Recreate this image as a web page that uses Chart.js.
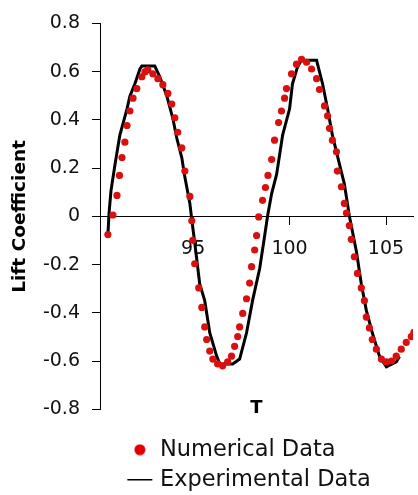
<!DOCTYPE html>
<html>
<head>
<meta charset="utf-8">
<script src="https://cdn.jsdelivr.net/npm/chart.js@4.4.1/dist/chart.umd.min.js"></script>
<style>
  html, body { margin: 0; padding: 0; background: #fff; }
  #wrap { width: 418px; height: 495px; }
</style>
</head>
<body>
<div id="wrap"><canvas id="liftChart"></canvas></div>
<script>
// Numerical data (red dots): time T and lift coefficient
const numT = [90.58, 90.84, 91.05, 91.18, 91.31, 91.46, 91.57, 91.72, 91.88, 92.08,
  92.34, 92.50, 92.65, 92.91, 93.17, 93.43, 93.69, 93.89, 94.05, 94.20,
  94.41, 94.57, 94.83, 94.93, 94.98, 95.08, 95.29, 95.45, 95.60, 95.70,
  95.86, 96.02, 96.27, 96.53, 96.79, 96.99, 97.15, 97.31, 97.41, 97.57,
  97.77, 97.93, 98.03, 98.19, 98.29, 98.40, 98.60, 98.75, 98.88, 99.07,
  99.22, 99.43, 99.58, 99.74, 99.84, 100.10, 100.36, 100.62, 100.88, 101.14,
  101.40, 101.55, 101.81, 101.97, 102.07, 102.22, 102.43, 102.48, 102.69, 102.84,
  102.95, 103.10, 103.20, 103.36, 103.52, 103.72, 103.88, 103.98, 104.14, 104.29,
  104.50, 104.76, 105.02, 105.28, 105.53, 105.79, 106.05, 106.31, 106.45];
const numCl = [-0.075, 0.006, 0.087, 0.17, 0.244, 0.308, 0.377, 0.437, 0.490, 0.530,
  0.579, 0.599, 0.607, 0.591, 0.571, 0.546, 0.510, 0.466, 0.409, 0.349,
  0.284, 0.188, 0.083, -0.018, -0.099, -0.196, -0.296, -0.377, -0.458, -0.510,
  -0.558, -0.591, -0.611, -0.619, -0.603, -0.579, -0.538, -0.498, -0.458, -0.402,
  -0.341, -0.276, -0.208, -0.139, -0.079, -0.002, 0.067, 0.12, 0.17, 0.236,
  0.316, 0.389, 0.437, 0.490, 0.530, 0.591, 0.631, 0.651, 0.639, 0.611,
  0.571, 0.526, 0.458, 0.417, 0.365, 0.316, 0.268, 0.188, 0.123, 0.054,
  0.014, -0.038, -0.095, -0.167, -0.236, -0.296, -0.349, -0.417, -0.462, -0.510,
  -0.550, -0.591, -0.603, -0.599, -0.579, -0.550, -0.522, -0.498, -0.48];

// Experimental data (black line)
const expT = [90.58, 90.64, 90.74, 90.95, 91.20, 91.57, 91.72, 91.98, 92.24, 92.34,
  93.01, 93.27, 93.64, 93.95, 94.15, 94.41, 94.57, 94.83, 94.93, 95.08,
  95.34, 95.60, 95.86, 96.22, 96.38, 97.05, 97.41, 97.77, 98.08, 98.45,
  98.71, 98.86, 99.07, 99.33, 99.64, 100.00, 100.15, 100.41, 100.62, 101.40,
  101.71, 101.97, 102.22, 102.59, 102.84, 103.10, 103.47, 103.72, 103.98, 104.29,
  104.66, 105.02, 105.53, 105.70];
const expCl = [-0.075, 0.014, 0.107, 0.216, 0.337, 0.446, 0.498, 0.550, 0.611, 0.623,
  0.623, 0.579, 0.498, 0.405, 0.325, 0.244, 0.163, 0.054, -0.014, -0.107,
  -0.280, -0.349, -0.482, -0.579, -0.611, -0.611, -0.591, -0.482, -0.349, -0.216,
  -0.079, 0.002, 0.095, 0.175, 0.337, 0.446, 0.550, 0.619, 0.647, 0.647,
  0.550, 0.446, 0.337, 0.216, 0.135, 0.002, -0.147, -0.280, -0.389, -0.482,
  -0.579, -0.623, -0.603, -0.58];

const xTicks = [95, 100, 105];
const xMin = 90.17, xMax = 106.4;

function toPoints(xs, ys) {
  return xs.map((x, i) => ({ x: x, y: ys[i] }));
}

// small red dot used as the legend marker
const dot = document.createElement('canvas');
dot.width = 12;
dot.height = 12;
const dctx = dot.getContext('2d');
dctx.fillStyle = '#e00000';
dctx.beginPath();
dctx.arc(6, 6, 5.5, 0, Math.PI * 2);
dctx.fill();

// move the legend block under the plot like the original
const legendPos = {
  id: 'legendPos',
  afterLayout(chart) {
    chart.legend.left = 123.5;
    chart.legend.top = 431;
  }
};

const tickFont = { family: 'DejaVu Sans', size: 19 };
const titleFont = { family: 'DejaVu Sans', size: 18.5, weight: 'bold' };

const ctx = document.getElementById('liftChart').getContext('2d');
new Chart(ctx, {
  type: 'scatter',
  data: {
    datasets: [{
      label: 'Numerical Data',
      data: toPoints(numT, numCl),
      xAxisID: 'x',
      backgroundColor: '#d81010',
      borderWidth: 0,
      pointRadius: 3.6,
      pointStyle: 'circle'
    }, {
      label: 'Experimental Data',
      type: 'line',
      data: toPoints(expT, expCl),
      xAxisID: 'x',
      borderColor: '#000',
      backgroundColor: '#000',
      borderWidth: 3,
      pointRadius: 0,
      tension: 0,
      fill: false
    }]
  },
  options: {
    responsive: true,
    maintainAspectRatio: false,
    animation: false,
    layout: { padding: { top: 15, right: 5, bottom: 0, left: 0 } },
    plugins: {
      tooltip: { enabled: false },
      legend: {
        position: 'bottom',
        align: 'start',
        labels: {
          usePointStyle: true,
          boxWidth: 17.7,
          boxHeight: 17.7,
          padding: 7.5,
          color: '#111',
          font: { family: 'DejaVu Sans', size: 22.5 },
          generateLabels(chart) {
            const items = Chart.defaults.plugins.legend.labels.generateLabels(chart);
            items[0].pointStyle = dot;
            items[1].pointStyle = 'line';
            items[1].lineWidth = 1.5;
            items[1].strokeStyle = '#000';
            return items;
          }
        }
      }
    },
    scales: {
      x: {
        type: 'linear',
        position: { y: 0 },
        min: xMin,
        max: xMax,
        afterBuildTicks: s => { s.ticks = xTicks.map(v => ({ value: v })); },
        afterFit: s => { s.height = 0; },
        grid: { drawOnChartArea: false, tickLength: 8, color: '#000' },
        border: { color: '#000', width: 1 },
        ticks: { padding: 13, color: '#111', font: tickFont, callback: v => String(v) }
      },
      x2: {
        type: 'linear',
        axis: 'x',
        position: 'bottom',
        min: xMin,
        max: xMax,
        grid: { display: false },
        border: { display: false },
        ticks: { display: false },
        title: { display: true, text: 'T', color: '#000', font: { family: 'DejaVu Sans', size: 18, weight: 'bold' }, padding: { top: 0, bottom: 6 } },
        afterFit: s => { s.height = 15.5; }
      },
      y: {
        position: 'left',
        min: -0.8,
        max: 0.8,
        afterFit: s => { s.width = 100; },
        grid: { drawOnChartArea: false, tickLength: 8, color: '#000' },
        border: { color: '#000', width: 1 },
        ticks: { stepSize: 0.2, padding: 12, color: '#111', font: tickFont, callback: v => String(Math.round(v * 10) / 10) },
        title: { display: true, text: 'Lift Coefficient', color: '#000', font: titleFont, padding: { top: 9, bottom: 0 } }
      }
    }
  },
  plugins: [legendPos]
});
</script>
</body>
</html>
